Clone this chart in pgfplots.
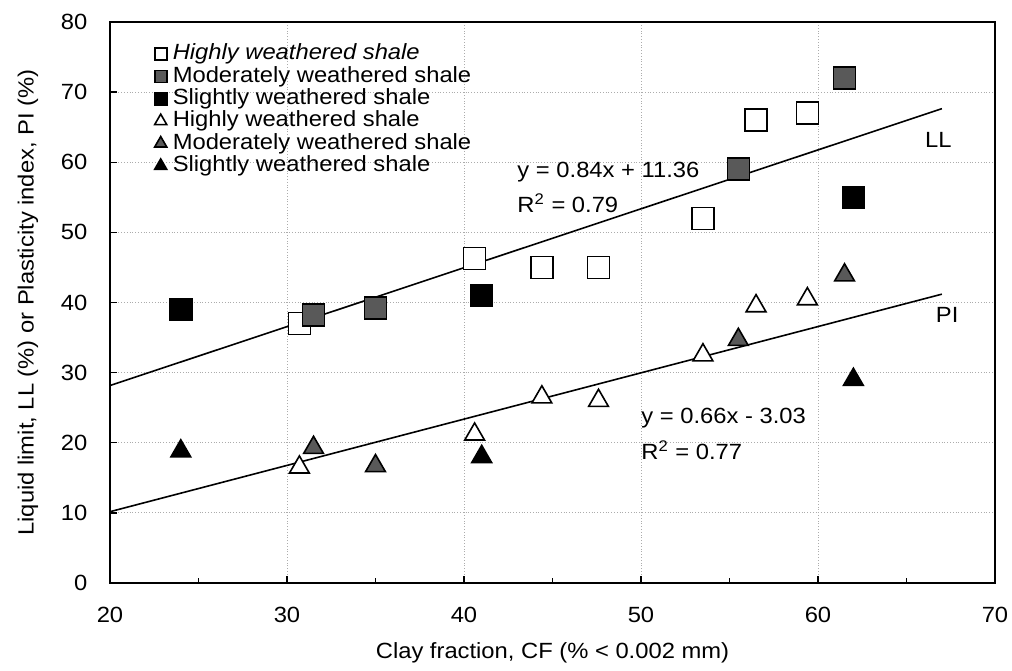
\documentclass[border=0pt]{standalone}
\usepackage{pgfplots}
\pgfplotsset{compat=1.18}
\usepackage{fontspec}
\setmainfont[FakeStretch=1.08]{Liberation Sans}

\definecolor{midgray}{gray}{0.35}

\begin{document}
\fontsize{11}{13.2}\selectfont
\begin{tikzpicture}
% fixed page frame around the axis box
\useasboundingbox (-55pt,-43.5pt) rectangle (451pt,291.5pt);
\begin{axis}[
  scale only axis,
  width=442.5pt, height=280.5pt,
  xmin=20, xmax=70, ymin=0, ymax=80,
  xtick={20,30,...,70},
  ytick={0,10,...,80},
  minor xtick={25,35,45,55,65},
  tick pos=left, tick align=inside,
  major tick length=3.5pt, minor tick length=2.5pt,
  every tick/.style={black, line width=0.7pt},
  axis line style={line width=1pt},
  grid=major,
  major grid style={densely dotted, gray!65, line width=0.4pt},
  /pgf/number format/assume math mode=true,
  xticklabel style={yshift=-8pt},
  yticklabel style={xshift=-7.5pt},
  xlabel={Clay fraction, CF (\% < 0.002 mm)},
  ylabel={Liquid limit, LL (\%) or Plasticity index, PI (\%)},
  every axis x label/.style={at={(axis description cs:0.5,0)}, yshift=-35pt, anchor=center},
  every axis y label/.style={at={(axis description cs:0,0.5)}, xshift=-41pt, rotate=90, anchor=center},
  legend cell align=left,
  legend style={draw=none, fill=none, at={(0.05,0.962)}, anchor=north west,
                row sep=1pt, column sep=3pt, inner sep=0pt,
                nodes={inner sep=0pt, text height=8pt, text depth=2.2pt}},
  legend image code/.code={\draw[#1] plot coordinates {(0cm,0cm)};},
]

% liquid limit: squares
\addplot[only marks, mark=square*, mark size=5.5pt, mark options={draw=black, fill=white, line width=0.8pt},
  legend image post style={mark size=3pt}]
  coordinates {(30.7,37) (40.6,46.3) (44.4,45) (47.6,45) (53.5,52) (56.5,66) (59.4,67)};
\addlegendentry{\textit{Highly weathered shale}}

\addplot[only marks, mark=square*, mark size=5.5pt, mark options={draw=black, fill=midgray, line width=0.8pt},
  legend image post style={mark size=3pt}]
  coordinates {(31.5,38.2) (35,39.2) (55.5,59) (61.5,72)};
\addlegendentry{Moderately weathered shale}

\addplot[only marks, mark=square*, mark size=5.5pt, mark options={draw=black, fill=black, line width=0.8pt},
  legend image post style={mark size=3pt}]
  coordinates {(24,39) (41,41) (62,55)};
\addlegendentry{Slightly weathered shale}

% plasticity index: triangles
\addplot[only marks, mark=triangle*, mark size=5.7pt, mark options={draw=black, fill=white, line width=0.8pt},
  legend image post style={mark size=3.5pt}]
  coordinates {(30.7,16.5) (40.6,21.2) (44.4,26.5) (47.6,26) (53.5,32.5) (56.5,39.5) (59.4,40.5)};
\addlegendentry{Highly weathered shale}

\addplot[only marks, mark=triangle*, mark size=5.7pt, mark options={draw=black, fill=midgray, line width=0.8pt},
  legend image post style={mark size=3.5pt}]
  coordinates {(31.5,19.3) (35,16.7) (55.5,34.7) (61.5,43.9)};
\addlegendentry{Moderately weathered shale}

\addplot[only marks, mark=triangle*, mark size=5.7pt, mark options={draw=black, fill=black, line width=0.8pt},
  legend image post style={mark size=3.5pt}]
  coordinates {(24,18.8) (41,18) (62,29)};
\addlegendentry{Slightly weathered shale}

% fitted lines: LL = 0.84 CF + 11.36, PI = 0.66 CF - 3.03
\addplot[black, line width=0.8pt, forget plot] coordinates {(20,28.16) (67,67.64)};
\addplot[black, line width=0.8pt, forget plot] coordinates {(20,10.17) (67,41.19)};

\node[anchor=west, inner sep=0pt] at (axis cs:43.0,58.6) {y = 0.84x + 11.36};
\node[anchor=west, inner sep=0pt] at (axis cs:43.0,54.2) {R\textsuperscript{2} = 0.79};
\node[anchor=west, inner sep=0pt] at (axis cs:50.0,23.5) {y = 0.66x - 3.03};
\node[anchor=west, inner sep=0pt] at (axis cs:50.0,19.0) {R\textsuperscript{2} = 0.77};
\node at (axis cs:66.8,63.2) {LL};
\node at (axis cs:67.3,38.2) {PI};
\end{axis}
\end{tikzpicture}
\end{document}
